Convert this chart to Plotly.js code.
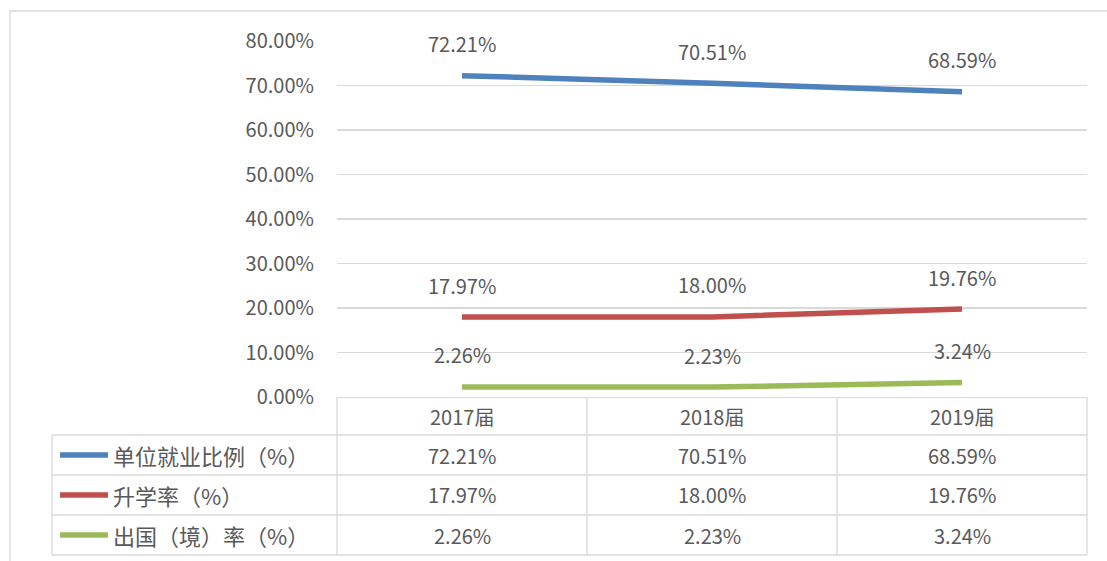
<!DOCTYPE html>
<html><head><meta charset="utf-8">
<script src="https://cdn.plot.ly/plotly-3.0.1.min.js"></script>
<style>html,body{margin:0;padding:0;background:#fff;}#chart{width:1107px;height:561px;}</style>
</head><body><div id="chart"></div>
<script>
var categories = ["2017届", "2018届", "2019届"];
var seriesNames = ["单位就业比例（%）", "升学率（%）", "出国（境）率（%）"];
var employment = [0.7221, 0.7051, 0.6859];
var furtherStudy = [0.1797, 0.1800, 0.1976];
var abroad = [0.0226, 0.0223, 0.0324];
var yTicks = [0, 0.1, 0.2, 0.3, 0.4, 0.5, 0.6, 0.7, 0.8];
var colors = ["#4F81BD", "#C0504D", "#9BBB59"];

var allSeries = [employment, furtherStudy, abroad];
var FONT = "Noto Sans CJK SC, Noto Sans, sans-serif";
var TXT = "#595959";
var GRID = "#D9D9D9";
var FS = 20;
var W = 1107, H = 561, ML = 337, MR = 20, MT = 41, MB = 164;
var PW = W - ML - MR, PH = H - MT - MB;
function px(x){ return (x - ML) / PW; }
function py(y){ return (H - MB - y) / PH; }
function pct(v){ return (v * 100).toFixed(2) + "%"; }

var xIdx = categories.map(function(_, i){ return i; });
var traces = allSeries.map(function(s, k){
  return {x: xIdx, y: s, type: "scatter", mode: "lines", name: seriesNames[k],
    line: {color: colors[k], width: 5.5, shape: "spline", smoothing: 0.4},
    hoverinfo: "skip", showlegend: false, cliponaxis: false};
});

var annotations = [];
var shapes = [];
// data labels
allSeries.forEach(function(s, k){
  s.forEach(function(v, i){
    annotations.push({x: i, y: v, xref: "x", yref: "y", text: pct(v), showarrow: false,
      xanchor: "center", yanchor: "middle",
      yshift: 32, font: {family: FONT, size: FS, color: TXT}});
  });
});
// table
var rowTop = [397, 435, 475, 515, 555];
var colX = [337, 587, 837, 1087];
var tableLeft = 52;
categories.forEach(function(c, i){
  annotations.push({x: i, y: py((rowTop[0] + rowTop[1]) / 2), xref: "x", yref: "paper", text: c,
    xanchor: "center", yanchor: "middle",
    showarrow: false, font: {family: FONT, size: FS, color: TXT}});
});
allSeries.forEach(function(s, k){
  var yc = py((rowTop[k + 1] + rowTop[k + 2]) / 2);
  s.forEach(function(v, i){
    annotations.push({x: i, y: yc, xref: "x", yref: "paper", text: pct(v), showarrow: false,
      xanchor: "center", yanchor: "middle",
      font: {family: FONT, size: FS, color: TXT}});
  });
  annotations.push({x: px(111), y: yc, xref: "paper", yref: "paper", xanchor: "left", yanchor: "middle",
    text: seriesNames[k], showarrow: false, font: {family: FONT, size: 22, color: TXT}});
  shapes.push({type: "line", xref: "paper", yref: "paper", x0: px(60), x1: px(108), y0: yc, y1: yc,
    line: {color: colors[k], width: 5.5}});
});
// horizontal table lines
for (var r = 1; r < rowTop.length; r++) {
  shapes.push({type: "line", xref: "paper", yref: "paper", x0: px(tableLeft), x1: px(colX[3]),
    y0: py(rowTop[r]), y1: py(rowTop[r]), line: {color: GRID, width: 1.3}});
}
// vertical table lines
colX.forEach(function(x){
  shapes.push({type: "line", xref: "paper", yref: "paper", x0: px(x), x1: px(x),
    y0: py(rowTop[0]), y1: py(rowTop[4]), line: {color: GRID, width: 1.3}});
});
shapes.push({type: "line", xref: "paper", yref: "paper", x0: px(tableLeft), x1: px(tableLeft),
  y0: py(rowTop[1]), y1: py(rowTop[4]), line: {color: GRID, width: 1.3}});
// outer chart border
shapes.push({type: "rect", xref: "paper", yref: "paper", x0: px(10), x1: px(1130), y0: py(11), y1: py(600),
  line: {color: GRID, width: 1.3}, fillcolor: "rgba(0,0,0,0)"});

var layout = {
  width: W, height: H,
  margin: {l: ML, r: MR, t: MT, b: MB, pad: 0},
  paper_bgcolor: "#fff", plot_bgcolor: "#fff",
  showlegend: false,
  xaxis: {range: [-0.5, 2.5], showgrid: false, zeroline: false, showticklabels: false,
    showline: true, linecolor: GRID, linewidth: 1.3, fixedrange: true},
  yaxis: {range: [0, 0.8], tickvals: yTicks, ticktext: yTicks.map(pct), showgrid: true,
    gridcolor: GRID, gridwidth: 1.3, zeroline: false, showline: false, ticks: "",
    ticklabelstandoff: 22, tickfont: {family: FONT, size: FS, color: TXT}, fixedrange: true},
  annotations: annotations,
  shapes: shapes
};
Plotly.newPlot("chart", traces, layout, {displayModeBar: false, staticPlot: true});
</script>
</body></html>
